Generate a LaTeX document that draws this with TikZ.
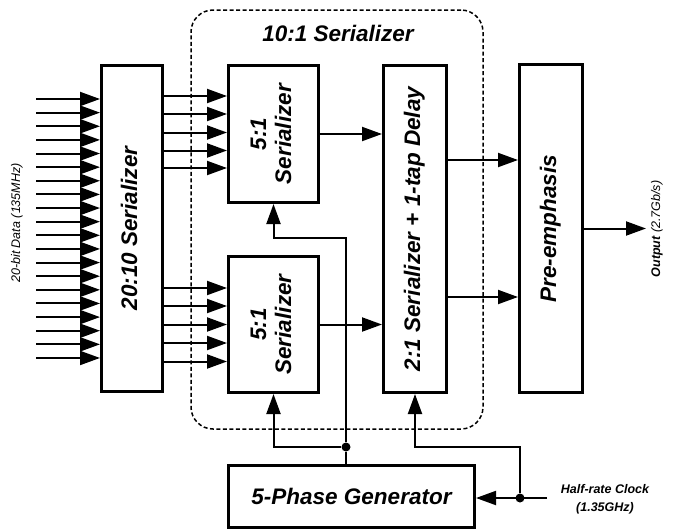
\documentclass[tikz,border=0pt]{standalone}
\usepackage{fontspec}
\setmainfont{Liberation Sans}
\usepackage{graphicx}
\usetikzlibrary{arrows.meta,calc}
\newcommand{\bigfont}{\fontsize{22.5}{25}\selectfont\bfseries\itshape}
\newcommand{\smallfont}{\fontsize{12.5}{18}\selectfont\itshape}
\newcommand{\vtxt}[1]{\rotatebox{90}{\begin{tabular}{@{}c@{}}#1\end{tabular}}}
\tikzset{
  box/.style={draw, line width=3pt, inner sep=0pt, align=center, font=\bigfont},
  grp/.style={draw, line width=1.5pt, dash pattern=on 4pt off 2.5pt, rounded corners=22pt, inner sep=0pt},
  flow/.style={-{Triangle[length=20pt,width=14pt]}, line width=2pt},
  wire/.style={line width=2pt},
  lbl/.style={font=\smallfont, align=center, inner sep=0pt},
  dot/.style={circle, fill, inner sep=0pt, minimum size=9pt},
}

\begin{document}
\begin{tikzpicture}[x=1pt, y=-1pt]
  \useasboundingbox (0,0) rectangle (673,531);
  \node[grp, minimum width=292pt, minimum height=419pt] (grp10) at (337,219.5) {};
  \node[font=\bigfont] (title) at (338,33) {10:1 Serializer};
  \node[box, minimum width=61pt, minimum height=326pt] (ser20) at (132,228.5) {\vtxt{20:10 Serializer}};
  \node[box, minimum width=90pt, minimum height=137pt] (sa) at (273.5,134) {\vtxt{5:1\\Serializer}};
  \node[box, minimum width=90pt, minimum height=136pt] (sb) at (273.5,324.5) {\vtxt{5:1\\Serializer}};
  \node[box, minimum width=63pt, minimum height=327pt] (ser2) at (415,229) {\vtxt{2:1 Serializer + 1-tap Delay}};
  \node[box, minimum width=63pt, minimum height=328pt] (pre) at (551,228.5) {\vtxt{Pre-emphasis}};
  \node[box, minimum width=246pt, minimum height=62pt] (gen) at (351.5,496.5) {5-Phase Generator};
  \node[lbl, rotate=90] (datalbl) at (17,223) {20-bit Data (135MHz)};
  \node[lbl, rotate=90] (outlbl) at (657,229) {\textbf{Output} (2.7Gb/s)};
  \node[lbl, font=\smallfont\bfseries] (clklbl) at (605,499) {Half-rate Clock\\(1.35GHz)};
  \node[dot] (tap) at (346,447) {};
  \node[dot] (cdot) at (520,498) {};
  \coordinate (bend) at (346,238);
  \coordinate (clk) at (547,498);
  \coordinate (out) at (646,228.5);
  % data inputs
  \foreach \i in {0,...,19} {
    \coordinate (in\i) at (36,{99+13.63*\i});
    \draw[flow] (in\i) -- (in\i -| ser20.west);
  }
  \foreach \y in {96,114,132.5,150.5,168}
    \draw[flow] (ser20.east |- 0,\y) -- (sa.west |- 0,\y);
  \foreach \y in {288,306,324.5,343,361.5}
    \draw[flow] (ser20.east |- 0,\y) -- (sb.west |- 0,\y);
  \draw[flow] (sa.east) -- (sa.east -| ser2.west);
  \draw[flow] (sb.east) -- (sb.east -| ser2.west);
  \draw[flow] (ser2.east |- 0,160) -- (pre.west |- 0,160);
  \draw[flow] (ser2.east |- 0,297) -- (pre.west |- 0,297);
  \draw[flow] (pre.east) -- (out);
  % clocks
  \draw[wire] (gen.north -| tap) -- (tap);
  \draw[flow] (tap) -| (sb.south);
  \draw[flow] (tap) -- (bend) -| (sa.south);
  \draw[flow] (clk) -- (gen.east |- clk);
  \draw[flow] (cdot) |- (ser2.south |- tap) -- (ser2.south);
\end{tikzpicture}
\end{document}
